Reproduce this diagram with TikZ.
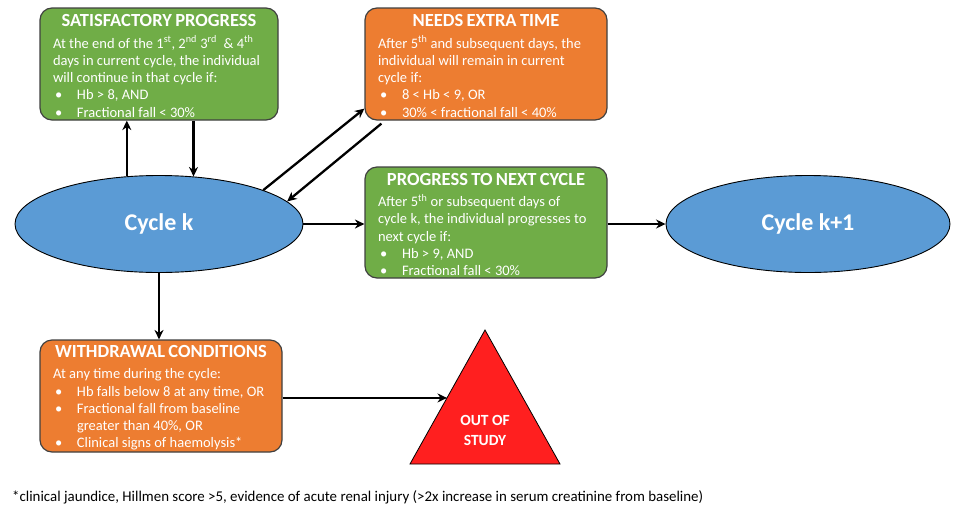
\documentclass[tikz,border=0pt]{standalone}
\usepackage{fontspec}
\setmainfont{Carlito}
\usetikzlibrary{arrows.meta,shapes.geometric,calc}
\definecolor{boxgreen}{HTML}{70AD47}
\definecolor{boxorange}{HTML}{ED7D31}
\definecolor{cycblue}{HTML}{5B9BD5}
\definecolor{outred}{HTML}{FF1F1F}
\newcommand{\bxtitle}[1]{\vspace*{6pt}{\centering\bfseries\fontsize{18.5}{20}\selectfont #1\par}\vspace{-2pt}}
\newcommand{\bxbul}{\makebox[24pt][l]{\hspace{2pt}\textbullet}}
\newcommand{\bxbody}{\fontsize{14.5}{17.25}\selectfont\parindent=0pt\hbadness=10000\hfuzz=50pt}
\newcommand{\bxl}[1]{\mbox{#1}\par}
\newcommand{\bxend}{\vspace{-4pt}}
\begin{document}
\begin{tikzpicture}[x=1pt,y=-1pt,
  cbox/.style={draw=black!75, line width=1.2pt, rounded corners=12pt,
    inner xsep=13pt, inner ysep=2pt, text width=#1-26pt, minimum height=112pt,
    text=white, anchor=center},
  cyc/.style={ellipse, draw=black, line width=0.9pt, fill=cycblue, inner sep=0pt,
    minimum width=288pt, minimum height=97pt, text=white,
    font=\bfseries\fontsize{24}{28}\selectfont},
  arr/.style={line width=2.3pt, -{Stealth[length=9.5pt,width=9pt]}}
]
\useasboundingbox (0,0) rectangle (956,512);

% boxes
\node[cbox=238pt, fill=boxgreen] (sat) at (159,64) {\bxtitle{SATISFACTORY PROGRESS}\bxbody
  \bxl{At the end of the 1\textsuperscript{st}, 2\textsuperscript{nd} 3\textsuperscript{rd}~~\& 4\textsuperscript{th}}
  \bxl{days in current cycle, the individual}
  \bxl{will continue in that cycle if:}
  \bxl{\bxbul Hb > 8, AND}
  \bxl{\bxbul Fractional fall < 30\%}\bxend};

\node[cbox=242pt, fill=boxorange] (extra) at (486,64) {\bxtitle{NEEDS EXTRA TIME}\bxbody
  \bxl{After 5\textsuperscript{th} and subsequent days, the}
  \bxl{individual will remain in current}
  \bxl{cycle if:}
  \bxl{\bxbul 8 < Hb < 9, OR}
  \bxl{\bxbul 30\% < fractional fall < 40\%}\bxend};

\node[cbox=242pt, fill=boxgreen, minimum height=111pt] (prog) at (486,222.5) {\bxtitle{PROGRESS TO NEXT CYCLE}\bxbody
  \bxl{After 5\textsuperscript{th} or subsequent days of}
  \bxl{cycle k, the individual progresses to}
  \bxl{next cycle if:}
  \bxl{\bxbul Hb > 9, AND}
  \bxl{\bxbul Fractional fall < 30\%}\bxend};

\node[cbox=242pt, fill=boxorange] (wd) at (161,396) {\bxtitle{WITHDRAWAL CONDITIONS}\bxbody
  \bxl{At any time during the cycle:}
  \bxl{\bxbul Hb falls below 8 at any time, OR}
  \bxl{\bxbul Fractional fall from baseline}
  \bxl{\hspace*{24pt}greater than 40\%, OR}
  \bxl{\bxbul Clinical signs of haemolysis*}\bxend};

% ellipses
\node[cyc] (ck) at (159,224) {Cycle k};
\node[cyc, minimum width=284pt] (ck1) at (808,224) {Cycle k+1};

% triangle
\coordinate (apex) at (485,330);
\coordinate (bl) at (410,464);
\coordinate (br) at (560,464);
\filldraw[fill=outred, draw=black, line width=0.8pt] (apex) -- (bl) -- (br) -- cycle;
\node[text=white, align=center, font=\bfseries\fontsize{15.5}{20}\selectfont] (out) at (485,430) {OUT OF\\STUDY};
\coordinate (hit) at ($(apex)!0.507!(bl)$);

% footnote
\node[anchor=west, inner sep=0pt, font=\fontsize{14.9}{17}\selectfont] (fn) at (12,497)
  {*clinical jaundice, Hillmen score >5, evidence of acute renal injury (>2x increase in serum creatinine from baseline)};

% connectors
\draw[arr] (ck.124) -- (ck.124 |- sat.south);
\draw[arr] (ck.54 |- sat.south) -- (ck.54);
\coordinate (exin) at ($(extra.south west)+(0,-12)$);
\coordinate (exout) at ($(extra.south west)+(17,3)$);
\draw[arr] (ck.18.6) -- (exin);
\draw[arr] (exout) -- (ck.10.6);
\draw[arr] (ck.east) -- (ck.east -| prog.west);
\draw[arr] (prog.east |- ck1.west) -- (ck1.west);
\draw[arr] (ck.south) -- (ck.south |- wd.north);
\draw[arr] (wd.east |- hit) -- (hit);
\end{tikzpicture}
\end{document}
